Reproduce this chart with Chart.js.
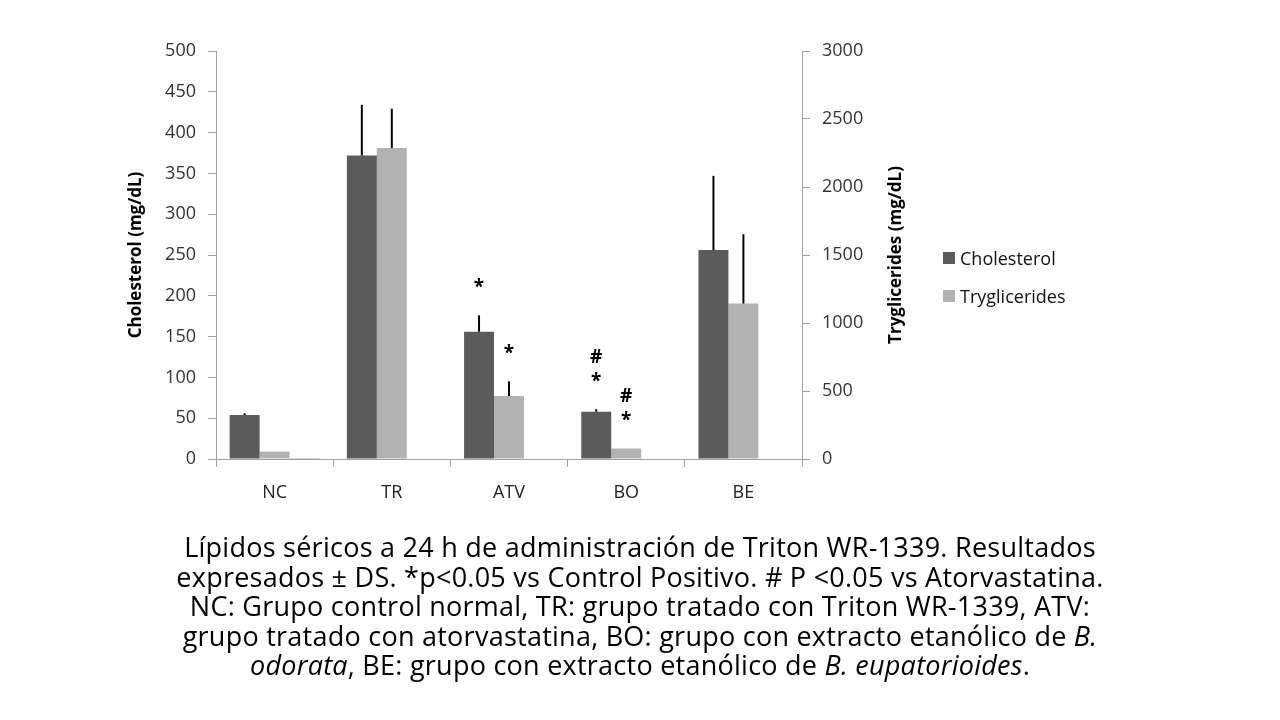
<!DOCTYPE html>
<html lang="es">
<head>
<meta charset="utf-8">
<script src="https://cdn.jsdelivr.net/npm/chart.js@4/dist/chart.umd.min.js"></script>
<style>
  body { margin: 0; background: #fff; font-family: "Open Sans", sans-serif; }
  #lienzo { position: absolute; left: 0; top: 0; width: 1280px; height: 720px; }
  #leyenda { position: absolute; left: 943px; top: 239px; font-size: 18px; color: #111; }
  #leyenda div { height: 38px; display: flex; align-items: center; }
  #leyenda span.caja { display: inline-block; width: 12px; height: 12px; margin-right: 5px; }
  #pie { position: absolute; left: 0; top: 532px; width: 1280px; text-align: center;
         font-size: 27px; letter-spacing: 0.25px; line-height: 29.5px; color: #000; }
</style>
</head>
<body>
<div id="lienzo"><canvas id="grafica"></canvas></div>
<div id="leyenda">
  <div><span class="caja" style="background:#5b5b5b"></span>Cholesterol</div>
  <div><span class="caja" style="background:#b2b2b2"></span>Tryglicerides</div>
</div>
<div id="pie">
  Lípidos séricos a 24 h de administración de Triton WR-1339. Resultados<br>
  expresados ± DS. *p&lt;0.05 vs Control Positivo. # P &lt;0.05 vs Atorvastatina.<br>
  NC: Grupo control normal, TR: grupo tratado con Triton WR-1339, ATV:<br>
  grupo tratado con atorvastatina, BO: grupo con extracto etanólico de <i>B.</i><br>
  <i>odorata</i>, BE: grupo con extracto etanólico de <i>B. eupatorioides</i>.
</div>
<script>
// --- DATOS ---
const categorias = ['NC', 'TR', 'ATV', 'BO', 'BE'];
const colesterol = [54, 372, 156, 58, 256];
const colesterolDS = [2, 62, 20, 3, 91];
const trigliceridos = [54, 2286, 464, 77, 1143];
const trigliceridosDS = [0, 290, 108, 0, 510];
const serieVacia = [1, 0, 0, 0, 0];
const marcasColesterol = [[], [], ['*'], ['#', '*'], []];
const marcasTrigliceridos = [[], [], ['*'], ['#', '*'], []];
const ticksColesterol = { min: 0, max: 500, paso: 50 };
const ticksTrigliceridos = { min: 0, max: 3000, paso: 500 };

const FUENTE = '"Open Sans"';
const GRIS_EJE = '#a0a0a0';
const FUENTE_TITULO = { family: 'Open Sans', size: 17, weight: 'bold' };

// barras de error (solo hacia arriba) y marcas de significancia
const pluginErrores = {
    id: 'errores',
    afterDatasetsDraw(chart) {
        const ctx = chart.ctx;
        chart.data.datasets.forEach((ds, i) => {
            if (!ds.errores) return;
            const meta = chart.getDatasetMeta(i);
            const escala = chart.scales[ds.yAxisID];
            meta.data.forEach((barra, j) => {
                const tope = escala.getPixelForValue(ds.data[j] + ds.errores[j]);
                if (ds.errores[j] > 0) {
                    ctx.save();
                    ctx.strokeStyle = '#000';
                    ctx.lineWidth = 2;
                    ctx.beginPath();
                    ctx.moveTo(barra.x, barra.y);
                    ctx.lineTo(barra.x, tope);
                    ctx.stroke();
                    ctx.restore();
                }
                const marcas = ds.marcas[j];
                ctx.save();
                ctx.fillStyle = '#000';
                ctx.font = 'bold 19px ' + FUENTE;
                ctx.textAlign = 'center';
                ctx.textBaseline = 'middle';
                for (let k = 0; k < marcas.length; k++) {
                    const y = tope - 28 - (marcas.length - 1 - k) * 24;
                    ctx.fillText(marcas[k], barra.x, y);
                }
                ctx.restore();
            });
        });
    }
};

// título del eje derecho, girado como el izquierdo (de abajo hacia arriba)
const pluginTituloDerecho = {
    id: 'tituloDerecho',
    afterDraw(chart) {
        const s = chart.scales.yTri;
        const ctx = chart.ctx;
        ctx.save();
        ctx.translate(s.right - 14, (s.top + s.bottom) / 2);
        ctx.rotate(-Math.PI / 2);
        ctx.fillStyle = '#000';
        ctx.font = 'bold 17px ' + FUENTE;
        ctx.textAlign = 'center';
        ctx.textBaseline = 'middle';
        ctx.fillText('Tryglicerides (mg/dL)', 0, 0);
        ctx.restore();
    }
};

const ejeGrid = { drawOnChartArea: false, tickLength: 8, color: GRIS_EJE, lineWidth: 1 };
const fuenteTicks = { family: 'Open Sans', size: 18 };

new Chart(document.getElementById('grafica'), {
    type: 'bar',
    data: {
        labels: categorias,
        datasets: [
            {
                label: 'Cholesterol', data: colesterol, errores: colesterolDS, marcas: marcasColesterol,
                backgroundColor: '#5b5b5b', yAxisID: 'yCol'
            },
            {
                label: 'Tryglicerides', data: trigliceridos, errores: trigliceridosDS, marcas: marcasTrigliceridos,
                backgroundColor: '#b2b2b2', yAxisID: 'yTri'
            },
            {
                label: '', data: serieVacia, backgroundColor: '#7a7a7a', yAxisID: 'yCol'
            }
        ]
    },
    options: {
        responsive: true,
        maintainAspectRatio: false,
        animation: false,
        devicePixelRatio: 1,
        categoryPercentage: 0.767,
        barPercentage: 1.0,
        layout: { padding: { left: 122, right: 370, top: 51, bottom: 211 } },
        plugins: { legend: { display: false }, tooltip: { enabled: false } },
        scales: {
            x: {
                grid: { ...ejeGrid, offset: true },
                border: { color: GRIS_EJE },
                ticks: { font: { family: 'Open Sans', size: 18 }, color: '#222', padding: 15 },
                afterFit(s) { s.height = 50; }
            },
            yCol: {
                position: 'left',
                min: ticksColesterol.min, max: ticksColesterol.max,
                grid: ejeGrid,
                border: { color: GRIS_EJE },
                ticks: { stepSize: ticksColesterol.paso, font: fuenteTicks, color: '#333', padding: 12 },
                title: { display: true, text: 'Cholesterol (mg/dL)', color: '#000', font: FUENTE_TITULO },
                afterFit(s) { s.width = 94; }
            },
            yTri: {
                position: 'right',
                min: ticksTrigliceridos.min, max: ticksTrigliceridos.max,
                grid: ejeGrid,
                border: { color: GRIS_EJE },
                ticks: { stepSize: ticksTrigliceridos.paso, font: fuenteTicks, color: '#333', padding: 12,
                         format: { useGrouping: false } },
                afterFit(s) { s.width = 108; }
            }
        }
    },
    plugins: [pluginErrores, pluginTituloDerecho]
});
</script>
</body>
</html>
